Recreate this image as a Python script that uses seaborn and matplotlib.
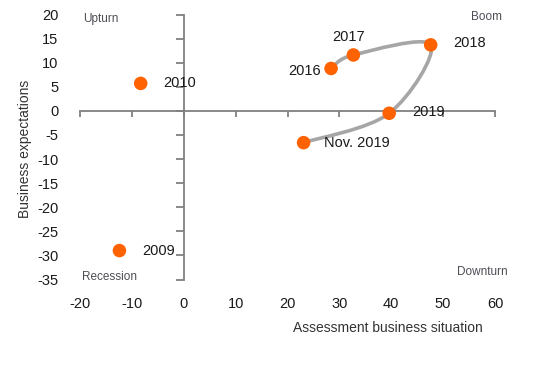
import matplotlib
matplotlib.use('Agg')
import numpy as np
import pandas as pd
import matplotlib.pyplot as plt
import seaborn as sns
from matplotlib.path import Path
from matplotlib.patches import PathPatch

# data
years = ['2009', '2010', '2016', '2017', '2018', '2019', 'Nov. 2019']
situation = [-12.4, -8.3, 28.4, 32.7, 47.6, 39.6, 23.1]
expectations = [-29.0, 5.7, 8.8, 11.6, 13.7, -0.5, -6.6]
x_ticks = list(range(-20, 61, 10))
y_ticks = list(range(-35, 21, 5))

df = pd.DataFrame({'year': years, 'situation': situation, 'expectations': expectations})

# label placement (offset in points, alignment)
label_pos = {
    '2009': ((16.5, 0), 'left'),
    '2010': ((16.5, 0), 'left'),
    '2016': ((-7, -1.5), 'right'),
    '2017': ((-3.5, 13), 'center'),
    '2018': ((16.5, 1), 'left'),
    '2019': ((16.5, 1), 'left'),
    'Nov. 2019': ((15, 0), 'left'),
}
# labels that sit on top of the axis ticks
boxed = {'2009'}

ORANGE = '#FF6200'
GREY_LINE = '#A6A6A6'
AXIS_COL = '#808080'

sns.set_style('white')
plt.rcParams['font.family'] = ['Liberation Sans', 'DejaVu Sans']
plt.rcParams['axes.unicode_minus'] = False

fig = plt.figure(figsize=(5.44, 3.65), dpi=100)
rect = [80 / 544, 85.5 / 365, 415 / 544, 265 / 365]
ax = fig.add_axes(rect)

# smoothed path 2016 -> Nov. 2019 (Catmull-Rom style bezier like Excel)
pts = df.iloc[2:][['situation', 'expectations']].to_numpy()
verts = [pts[0]]
codes = [Path.MOVETO]
for i in range(len(pts) - 1):
    p0 = pts[max(i - 1, 0)]
    p1 = pts[i]
    p2 = pts[i + 1]
    p3 = pts[min(i + 2, len(pts) - 1)]
    verts += [p1 + (p2 - p0) / 6, p2 - (p3 - p1) / 6, p2]
    codes += [Path.CURVE4] * 3
ax.add_patch(PathPatch(Path(verts, codes), fill=False, lw=2.6, edgecolor=GREY_LINE,
                       zorder=2, capstyle='round'))

sns.scatterplot(data=df, x='situation', y='expectations', color=ORANGE, s=95,
                edgecolor='none', zorder=3, ax=ax, legend=False)

for yr, xv, yv in zip(years, situation, expectations):
    off, ha = label_pos[yr]
    box = dict(boxstyle='square,pad=0.05', fc='white', ec='none') if yr in boxed else None
    ax.annotate(yr, (xv, yv), xytext=off, textcoords='offset points',
                ha=ha, va='center', fontsize=10.5, color='#1a1a1a', zorder=4, bbox=box)

ax.set_xlim(-20, 60)
ax.set_ylim(-35, 20)
ax.set_xticks(x_ticks)
ax.set_yticks(y_ticks)
ax.set_xlabel('')
ax.set_ylabel('')
ax.spines['left'].set_position(('data', 0))
ax.spines['bottom'].set_position(('data', 0))
ax.spines['right'].set_visible(False)
ax.spines['top'].set_visible(False)
for s in ('left', 'bottom'):
    ax.spines[s].set_color(AXIS_COL)
    ax.spines[s].set_linewidth(1.3)
ax.tick_params(axis='y', left=True, direction='out', length=6, width=1.3, color=AXIS_COL,
               labelleft=False)
ax.tick_params(axis='x', bottom=True, direction='out', length=4, width=1.3, color=AXIS_COL,
               labelbottom=False)

# quadrant names
quad_kw = dict(transform=ax.transAxes, fontsize=8.5, color='#4d4d55', va='center')
ax.text(0.007, 0.983, 'Upturn', ha='left', **quad_kw)
ax.text(1.017, 0.991, 'Boom', ha='right', **quad_kw)
ax.text(0.005, 0.009, 'Recession', ha='left', **quad_kw)
ax.text(1.031, 0.028, 'Downturn', ha='right', **quad_kw)

# overlay axes carrying the tick labels at the figure edges
ax2 = fig.add_axes(rect, sharex=ax, sharey=ax)
ax2.patch.set_visible(False)
for s in ax2.spines.values():
    s.set_visible(False)
ax2.tick_params(axis='y', left=False, pad=12, labelsize=10.5, labelcolor='#1a1a1a')
ax2.tick_params(axis='x', bottom=False, pad=9, labelsize=10.5, labelcolor='#1a1a1a')
ax2.set_xlabel('Assessment business situation', fontsize=10, color='#333333')
ax2.set_ylabel('Business expectations', fontsize=10, color='#333333')
ax2.xaxis.set_label_coords(0.742, -0.183)
ax2.yaxis.set_label_coords(-0.1325, 0.492)
ax2.xaxis.label.set_va('center')
ax2.yaxis.label.set_va('center')

fig.savefig('out.png', dpi=100)
